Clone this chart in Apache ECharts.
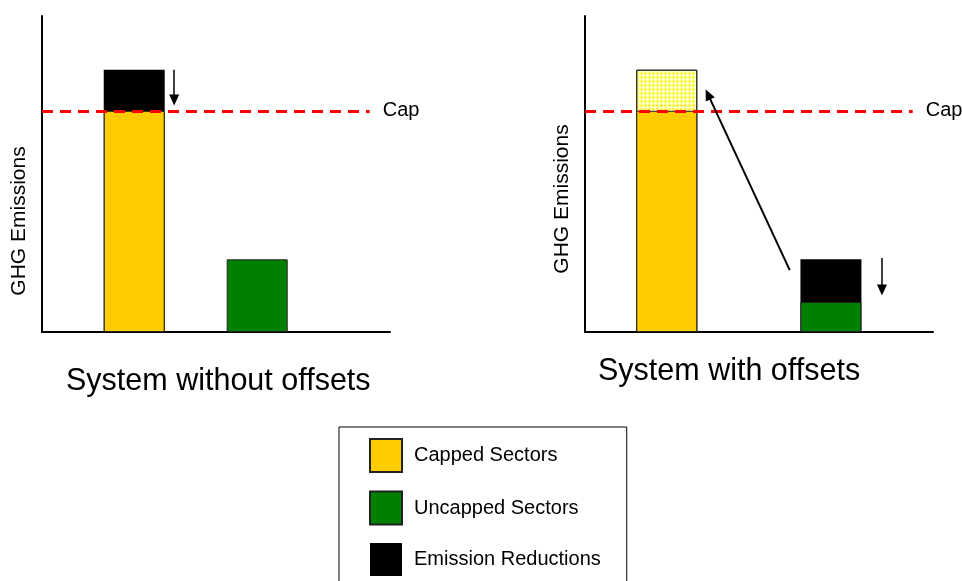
<!DOCTYPE html>
<html><head><meta charset="utf-8">
<script src="https://cdn.jsdelivr.net/npm/echarts@6/dist/echarts.min.js"></script>
<style>html,body{margin:0;padding:0;background:#fff}#c{width:962px;height:581px}</style>
</head><body><div id="c"></div>
<script>
// ---- data ----
const panelTitles = ['System without offsets', 'System with offsets'];
const yAxisName = 'GHG Emissions';
const legendNames = ['Capped Sectors', 'Uncapped Sectors', 'Emission Reductions'];
const offsetName = 'Offsets';
const capLabel = 'Cap';
const capValue = 70;
const xSpan = 5.66;
const capEnd = 5.33;
// left panel (bar slot positions on the x scale)
const slotsLeft = [1.5, 3.5];
const cappedLeft = [70, 0];
const uncappedLeft = [0, 23];
const reductionsLeft = [13, 0];
// right panel
const slotsRight = [1.33, 4.0];
const cappedRight = [70, 0];
const offsetsRight = [13, 0];
const uncappedRight = [0, 9.5];
const reductionsRight = [0, 13.5];
// arrows [x1, y1, x2, y2] in axis units
const arrowLeftDown = [2.15, 83, 2.15, 73.4];
const arrowRightDown = [4.83, 23.4, 4.83, 13.3];
const arrowTransfer = [3.33, 19.6, 2.0, 75.2];

// ---- helpers ----
const FONT = 'Liberation Sans, Arial, sans-serif';
const YELLOW = '#FFCC00', GREEN = '#008000', BLACK = '#000000';
function pts(slots, vals, onlyWhere) {
  const out = [];
  slots.forEach((s, i) => { if (vals[i] > 0 && (!onlyWhere || onlyWhere[i] > 0)) out.push([s, vals[i]]); });
  return out;
}
function add(a, b) { return a.map((v, i) => v + b[i]); }
function barSeries(name, data, idx, style, extra) {
  return Object.assign({
    type: 'bar', name: name, xAxisIndex: idx, yAxisIndex: idx,
    data: data, barWidth: 61, barGap: '-100%',
    itemStyle: style, emphasis: { disabled: true }, silent: true
  }, extra || {});
}
const bordered = (c) => ({ color: c, borderColor: '#222', borderWidth: 1 });
function arrowLine(a, width) {
  return [
    { coord: [a[0], a[1]], symbol: 'none', lineStyle: { color: '#000', width: width, type: 'solid' }, label: { show: false } },
    { coord: [a[2], a[3]], symbol: 'triangle', symbolSize: [10, 11] }
  ];
}
function capLine() {
  return [
    { coord: [0, capValue], symbol: 'none', lineStyle: { color: '#FF0000', width: 3, type: [11, 7] },
      label: { show: true, position: 'end', formatter: capLabel, color: '#000', fontSize: 20, fontFamily: FONT, distance: 13, padding: [6, 0, 0, 0] } },
    { coord: [capEnd, capValue], symbol: 'none' }
  ];
}
function markLines(arrows) {
  return {
    silent: true, animation: false, symbol: 'none',
    data: [capLine()].concat(arrows)
  };
}

const grids = [
  { left: 42, top: 16, width: 348, bottom: 249 },
  { left: 585, top: 16, width: 348, bottom: 249 }
];
const axisLineStyle = { show: true, onZero: false, lineStyle: { color: '#000', width: 2 } };
const xAxes = grids.map((g, i) => ({
  type: 'value', gridIndex: i, min: 0, max: xSpan,
  axisLine: axisLineStyle, axisTick: { show: false }, axisLabel: { show: false }, splitLine: { show: false }
}));
const yAxes = grids.map((g, i) => ({
  type: 'value', gridIndex: i, min: 0, max: 100,
  name: yAxisName, nameLocation: 'middle', nameRotate: 90, nameGap: 12,
  nameTextStyle: { fontSize: 21, fontFamily: FONT, color: '#000', padding: [0, i === 0 ? 94 : 50, 0, 0] },
  axisLine: axisLineStyle, axisTick: { show: false }, axisLabel: { show: false }, splitLine: { show: false }
}));

const series = [
  // left panel
  barSeries(legendNames[2], pts(slotsLeft, add(cappedLeft, reductionsLeft), reductionsLeft), 0, { color: BLACK }),
  barSeries(legendNames[0], pts(slotsLeft, cappedLeft), 0, bordered(YELLOW), { markLine: markLines([arrowLine(arrowLeftDown, 1.5)]) }),
  barSeries(legendNames[1], pts(slotsLeft, uncappedLeft), 0, bordered(GREEN)),
  // right panel
  barSeries(offsetName, pts(slotsRight, add(cappedRight, offsetsRight), offsetsRight), 1,
    { color: '#FFFFC8', borderColor: '#222', borderWidth: 1,
      decal: { symbol: 'circle', symbolSize: 0.8, color: '#FFEE00', dashArrayX: [[3, 1]], dashArrayY: [3, 1], rotation: 0 } }),
  barSeries(legendNames[0], pts(slotsRight, cappedRight), 1, bordered(YELLOW), { markLine: markLines([arrowLine(arrowRightDown, 1.5), arrowLine(arrowTransfer, 2)]) }),
  barSeries(legendNames[2], pts(slotsRight, add(uncappedRight, reductionsRight), reductionsRight), 1, { color: BLACK }),
  barSeries(legendNames[1], pts(slotsRight, uncappedRight), 1, bordered(GREEN))
];

const chart = echarts.init(document.getElementById('c'), null, { renderer: 'canvas' });
chart.setOption({
  animation: false,
  backgroundColor: '#fff',
  title: [
    { text: panelTitles[0], left: 66, top: 366, padding: 0, textStyle: { fontSize: 30.5, fontWeight: 'normal', color: '#000', fontFamily: FONT } },
    { text: panelTitles[1], left: 598, top: 356, padding: 0, textStyle: { fontSize: 30.5, fontWeight: 'normal', color: '#000', fontFamily: FONT } }
  ],
  legend: {
    data: legendNames, orient: 'vertical', left: 339, top: 427, height: 200,
    padding: [11, 26, 12, 30], itemWidth: 32, itemHeight: 33, itemGap: 17.5,
    icon: 'rect', borderColor: '#000', borderWidth: 1, selectedMode: false,
    textStyle: { fontSize: 20, fontFamily: FONT, color: '#000', padding: [0, 0, 0, 7] }
  },
  grid: grids,
  xAxis: xAxes,
  yAxis: yAxes,
  series: series
});
</script></body></html>
